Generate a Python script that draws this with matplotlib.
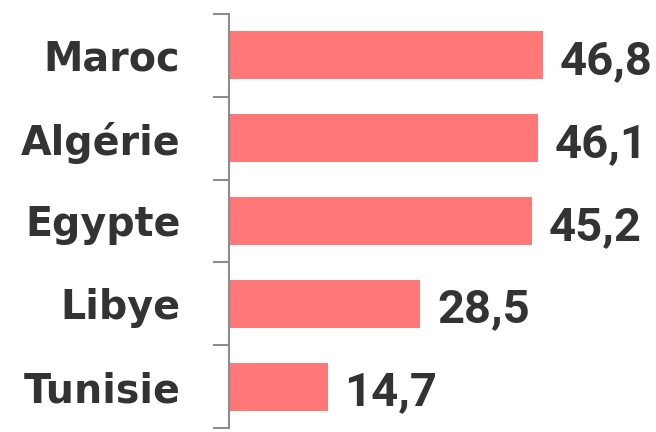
import matplotlib
matplotlib.use("Agg")
import matplotlib.pyplot as plt
import numpy as np

countries = ["Maroc", "Algérie", "Egypte", "Libye", "Tunisie"]
values = [46.8, 46.1, 45.2, 28.5, 14.7]
value_labels = ["46,8", "46,1", "45,2", "28,5", "14,7"]

bar_color = "#FF7777"
text_color = "#333333"
axis_color = "#8C8C8C"

fig = plt.figure(figsize=(6.56, 4.32), dpi=100)
ax = fig.add_axes([0.349, 0.009, 0.651, 0.959])

y = np.arange(len(countries))
ax.barh(y, values, height=0.58, color=bar_color, left=0)

# numbers sit a bit low, baseline under the bar centre
for yi, v, lab in zip(y, values, value_labels):
    ax.annotate(lab, xy=(v, yi), xytext=(12, -13.5), textcoords="offset points",
                ha="left", va="baseline", fontsize=34, fontweight="bold",
                family="Roboto", color=text_color)

ax.set_xlim(0, 63.6)
ax.set_ylim(len(countries) - 0.5, -0.5)
ax.set_yticks(y)
ax.set_yticklabels(countries, fontsize=28.5, fontweight="bold", color=text_color)
ax.set_yticks(np.arange(-0.5, len(countries), 1), minor=True)
ax.tick_params(axis="y", which="major", length=0, pad=35)
ax.tick_params(axis="y", which="minor", length=11.5, width=1.5, color=axis_color)
ax.set_xticks([])

for s in ["top", "right", "bottom"]:
    ax.spines[s].set_visible(False)
ax.spines["left"].set_color(axis_color)
ax.spines["left"].set_linewidth(1.5)

fig.savefig("out.png", dpi=100)
